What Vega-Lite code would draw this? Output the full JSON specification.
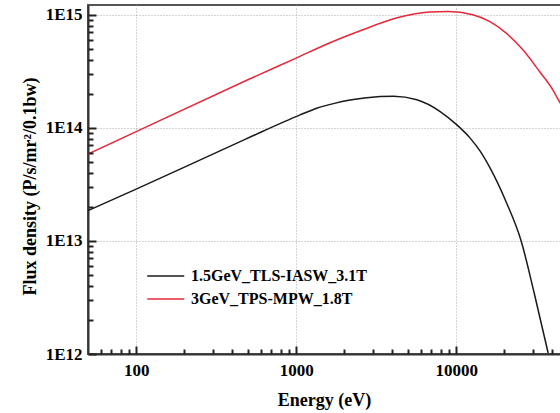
{
  "$schema": "https://vega.github.io/schema/vega-lite/v6.json",
  "width": 480,
  "height": 349,
  "autosize": {"type": "none"},
  "padding": {"left": 88, "top": 5, "right": 0, "bottom": 59},
  "background": "white",
  "config": {"view": {"stroke": "#555", "strokeWidth": 2}, "font": "Liberation Serif"},
  "data": {"values": [
    {"E": 50, "F": 1.855e13, "s": "1.5GeV_TLS-IASW_3.1T"},
    {"E": 100, "F": 2.87e13, "s": "1.5GeV_TLS-IASW_3.1T"},
    {"E": 487, "F": 7.99e13, "s": "1.5GeV_TLS-IASW_3.1T"},
    {"E": 1059, "F": 1.301e14, "s": "1.5GeV_TLS-IASW_3.1T"},
    {"E": 1346, "F": 1.491e14, "s": "1.5GeV_TLS-IASW_3.1T"},
    {"E": 1711, "F": 1.638e14, "s": "1.5GeV_TLS-IASW_3.1T"},
    {"E": 2175, "F": 1.76e14, "s": "1.5GeV_TLS-IASW_3.1T"},
    {"E": 2766, "F": 1.847e14, "s": "1.5GeV_TLS-IASW_3.1T"},
    {"E": 4055, "F": 1.9e14, "s": "1.5GeV_TLS-IASW_3.1T"},
    {"E": 5680, "F": 1.77e14, "s": "1.5GeV_TLS-IASW_3.1T"},
    {"E": 7943, "F": 1.394e14, "s": "1.5GeV_TLS-IASW_3.1T"},
    {"E": 10150, "F": 1.056e14, "s": "1.5GeV_TLS-IASW_3.1T"},
    {"E": 12230, "F": 8.11e13, "s": "1.5GeV_TLS-IASW_3.1T"},
    {"E": 14125, "F": 6.22e13, "s": "1.5GeV_TLS-IASW_3.1T"},
    {"E": 16310, "F": 4.4e13, "s": "1.5GeV_TLS-IASW_3.1T"},
    {"E": 20540, "F": 2.21e13, "s": "1.5GeV_TLS-IASW_3.1T"},
    {"E": 25480, "F": 1.0e13, "s": "1.5GeV_TLS-IASW_3.1T"},
    {"E": 30730, "F": 3.46e12, "s": "1.5GeV_TLS-IASW_3.1T"},
    {"E": 37580, "F": 1.02e12, "s": "1.5GeV_TLS-IASW_3.1T"},
    {"E": 50, "F": 5.85e13, "s": "3GeV_TPS-MPW_1.8T"},
    {"E": 100, "F": 9.27e13, "s": "3GeV_TPS-MPW_1.8T"},
    {"E": 487, "F": 2.62e14, "s": "3GeV_TPS-MPW_1.8T"},
    {"E": 1000, "F": 4.14e14, "s": "3GeV_TPS-MPW_1.8T"},
    {"E": 1615, "F": 5.62e14, "s": "3GeV_TPS-MPW_1.8T"},
    {"E": 2612, "F": 7.36e14, "s": "3GeV_TPS-MPW_1.8T"},
    {"E": 4217, "F": 9.35e14, "s": "3GeV_TPS-MPW_1.8T"},
    {"E": 6812, "F": 1.057e15, "s": "3GeV_TPS-MPW_1.8T"},
    {"E": 8900, "F": 1.07e15, "s": "3GeV_TPS-MPW_1.8T"},
    {"E": 12700, "F": 1.0e15, "s": "3GeV_TPS-MPW_1.8T"},
    {"E": 16150, "F": 8.73e14, "s": "3GeV_TPS-MPW_1.8T"},
    {"E": 20540, "F": 6.89e14, "s": "3GeV_TPS-MPW_1.8T"},
    {"E": 26120, "F": 4.9e14, "s": "3GeV_TPS-MPW_1.8T"},
    {"E": 33190, "F": 3.15e14, "s": "3GeV_TPS-MPW_1.8T"},
    {"E": 40180, "F": 2.17e14, "s": "3GeV_TPS-MPW_1.8T"},
    {"E": 44670, "F": 1.65e14, "s": "3GeV_TPS-MPW_1.8T"}
  ]},
  "layer": [
    {
      "mark": {"type": "line", "interpolate": "monotone", "strokeWidth": 1.5, "clip": true},
      "encoding": {
        "x": {
          "field": "E", "type": "quantitative",
          "scale": {"type": "log", "domain": [50, 50000]},
          "axis": {
            "orient": "bottom",
            "values": [100, 1000, 10000],
            "format": "d",
            "labelOverlap": false, "labelFlush": false, "labelBound": false,
            "ticks": false,
            "grid": true, "gridColor": "#aaa", "gridDash": [1, 2], "gridWidth": 1,
            "domainColor": "#333", "domainWidth": 2,
            "labelFont": "Liberation Serif", "labelFontSize": 17, "labelFontWeight": "bold", "labelColor": "#000", "labelPadding": 8,
            "title": "Energy (eV)", "titleFont": "Liberation Serif", "titleFontSize": 18, "titleFontWeight": "bold", "titleColor": "#000",
            "titleX": 236, "titleY": 46, "titleBaseline": "middle", "titleAlign": "center"
          }
        },
        "y": {
          "field": "F", "type": "quantitative",
          "scale": {"type": "log", "domain": [1e12, 1.22e15]},
          "axis": {
            "orient": "left",
            "values": [1e12, 1e13, 1e14, 1e15],
            "labelExpr": "datum.value == 1e12 ? '1E12' : datum.value == 1e13 ? '1E13' : datum.value == 1e14 ? '1E14' : '1E15'",
            "labelOverlap": false, "labelFlush": false, "labelBound": false,
            "ticks": false,
            "grid": true, "gridColor": "#aaa", "gridDash": [1, 2], "gridWidth": 1,
            "domainColor": "#333", "domainWidth": 2,
            "labelFont": "Liberation Serif", "labelFontSize": 17, "labelFontWeight": "bold", "labelColor": "#000", "labelPadding": 6,
            "title": "Flux density (P/s/mr²/0.1bw)", "titleFont": "Liberation Serif", "titleFontSize": 18, "titleFontWeight": "bold", "titleColor": "#000",
            "titleX": -58, "titleY": 181, "titleBaseline": "middle", "titleAlign": "center", "titleAngle": -90
          }
        },
        "color": {
          "field": "s", "type": "nominal",
          "scale": {"domain": ["1.5GeV_TLS-IASW_3.1T", "3GeV_TPS-MPW_1.8T"], "range": ["#1a1a1a", "#e8283a"]},
          "legend": {
            "orient": "none", "legendX": 69.75, "legendY": 263, "title": null,
            "symbolType": "M-3.7,0H3.7", "symbolSize": 100, "symbolStrokeWidth": 1.5,
            "labelFont": "Liberation Serif", "labelFontSize": 16, "labelFontWeight": "bold", "labelColor": "#000",
            "labelOffset": 17.25, "labelLimit": 0, "rowPadding": 7, "padding": 0
          }
        }
      }
    },
    {
      "mark": {"type": "line", "opacity": 0},
      "encoding": {
        "x": {
          "field": "E", "type": "quantitative",
          "scale": {"type": "log", "domain": [50, 50000]},
          "axis": {
            "orient": "bottom", "zindex": 2,
            "values": [100, 1000, 10000],
            "labels": false, "grid": false, "domain": false, "title": null,
            "tickSize": -8, "tickColor": "#222", "tickWidth": 2
          }
        },
        "y": {
          "field": "F", "type": "quantitative",
          "scale": {"type": "log", "domain": [1e12, 1.22e15]},
          "axis": {
            "orient": "left", "zindex": 2,
            "values": [1e12, 1e13, 1e14, 1e15],
            "labels": false, "grid": false, "domain": false, "title": null,
            "tickSize": -8, "tickColor": "#222", "tickWidth": 2
          }
        }
      }
    },
    {
      "mark": {"type": "line", "opacity": 0},
      "encoding": {
        "x": {
          "field": "E", "type": "quantitative",
          "scale": {"type": "log", "domain": [50, 50000]},
          "axis": {
            "orient": "bottom", "zindex": 2,
            "values": [60, 70, 80, 90, 200, 300, 400, 500, 600, 700, 800, 900, 2000, 3000, 4000, 5000, 6000, 7000, 8000, 9000, 20000, 30000, 40000, 50000],
            "labels": false, "grid": false, "domain": false, "title": null,
            "tickSize": -5, "tickColor": "#222", "tickWidth": 2
          }
        },
        "y": {
          "field": "F", "type": "quantitative",
          "scale": {"type": "log", "domain": [1e12, 1.22e15]},
          "axis": {
            "orient": "left", "zindex": 2,
            "values": [2e12, 3e12, 4e12, 5e12, 6e12, 7e12, 8e12, 9e12, 2e13, 3e13, 4e13, 5e13, 6e13, 7e13, 8e13, 9e13, 2e14, 3e14, 4e14, 5e14, 6e14, 7e14, 8e14, 9e14],
            "labels": false, "grid": false, "domain": false, "title": null,
            "tickSize": -5, "tickColor": "#222", "tickWidth": 2
          }
        }
      }
    }
  ],
  "resolve": {"axis": {"x": "independent", "y": "independent"}}
}
